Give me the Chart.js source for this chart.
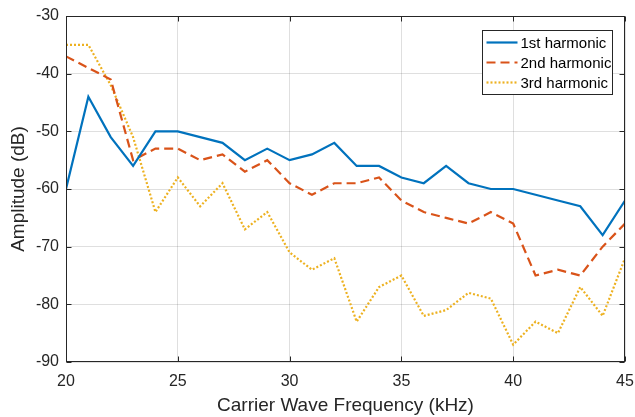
<!DOCTYPE html>
<html lang="en"><head><meta charset="UTF-8">
<title>Harmonic amplitude</title>
<script src="https://cdn.jsdelivr.net/npm/chart.js@4/dist/chart.umd.min.js"></script>
<style>
*{margin:0;padding:0;box-sizing:border-box}
body{background:#fff;width:635px;height:417px;overflow:hidden}
#wrap{position:relative;width:635px;height:417px}
</style></head><body>
<div id="wrap"><canvas id="c"></canvas></div>
<script>
// data
const freqs = [20,21,22,23,24,25,26,27,28,29,30,31,32,33,34,35,36,37,38,39,40,41,42,43,44,45];
const first = [-60,-44,-51,-56,-50,-50,-51,-52,-55,-53,-55,-54,-52,-56,-56,-58,-59,-56,-59,-60,-60,-61,-62,-63,-68,-62];
const second = [-37,-39,-41,-55,-53,-53,-55,-54,-57,-55,-59,-61,-59,-59,-58,-62,-64,-65,-66,-64,-66,-75,-74,-75,-70,-66];
const third = [-35,-35,-42,-51,-64,-58,-63,-59,-67,-64,-71,-74,-72,-83,-77,-75,-82,-81,-78,-79,-87,-83,-85,-77,-82,-72];
const seriesNames = ['1st harmonic', '2nd harmonic', '3rd harmonic'];
const xTicks = [20,25,30,35,40,45];
const yTicks = [-90,-80,-70,-60,-50,-40,-30];

const AX = '#262626';
const FONT = "'Liberation Sans', Arial, sans-serif";

function pts(vals) { return vals.map((v, i) => ({ x: freqs[i], y: v })); }

// box on all four sides, inward ticks, legend in the upper right
const boxPlugin = {
  id: 'boxPlugin',
  afterDraw(chart) {
    const { ctx, chartArea: a, scales } = chart;
    const L = Math.round(a.left) + 0.5, R = Math.round(a.right) - 0.5;
    const T = Math.round(a.top) + 0.5, B = Math.round(a.bottom) - 0.5;
    ctx.save();
    ctx.strokeStyle = AX;
    ctx.lineWidth = 1;
    ctx.setLineDash([]);
    ctx.strokeRect(L, T, R - L, B - T);
    ctx.beginPath();
    xTicks.forEach(v => {
      const x = Math.round(scales.x.getPixelForValue(v)) + 0.5;
      ctx.moveTo(x, B); ctx.lineTo(x, B - 5);
      ctx.moveTo(x, T); ctx.lineTo(x, T + 5);
    });
    yTicks.forEach(v => {
      const y = Math.round(scales.y.getPixelForValue(v)) + 0.5;
      ctx.moveTo(L, y); ctx.lineTo(L + 5, y);
      ctx.moveTo(R, y); ctx.lineTo(R - 5, y);
    });
    ctx.stroke();

    // legend
    const w = 130, h = 64;
    const lx = Math.round(a.right) - 13 - w + 0.5, ly = Math.round(a.top) + 14 + 0.5;
    ctx.fillStyle = '#fff';
    ctx.fillRect(lx, ly, w, h);
    ctx.strokeStyle = AX;
    ctx.strokeRect(lx, ly, w, h);
    ctx.font = '15px ' + FONT;
    ctx.textBaseline = 'middle';
    ctx.textAlign = 'left';
    chart.data.datasets.forEach((ds, i) => {
      const y = ly + 12 + i * 20;
      ctx.strokeStyle = ds.borderColor;
      ctx.lineWidth = ds.borderWidth;
      ctx.setLineDash(ds.borderDash || []);
      ctx.beginPath();
      ctx.moveTo(lx + 4, y); ctx.lineTo(lx + 35, y);
      ctx.stroke();
      ctx.setLineDash([]);
      ctx.fillStyle = '#000';
      ctx.fillText(ds.label, lx + 38, y + 1);
    });
    ctx.restore();
  }
};

new Chart(document.getElementById('c'), {
  type: 'line',
  data: {
    datasets: [
      { label: seriesNames[0], data: pts(first), borderColor: '#0072BD', borderWidth: 2.2 },
      { label: seriesNames[1], data: pts(second), borderColor: '#D95319', borderWidth: 2.2, borderDash: [9, 5] },
      { label: seriesNames[2], data: pts(third), borderColor: '#EDB120', borderWidth: 2.2, borderDash: [2, 2] }
    ]
  },
  options: {
    responsive: true,
    maintainAspectRatio: false,
    animation: false,
    layout: { padding: { top: 16, right: 10, left: 0, bottom: 0 } },
    elements: { point: { radius: 0, hoverRadius: 0 }, line: { tension: 0, fill: false, borderCapStyle: 'butt', borderJoinStyle: 'miter' } },
    plugins: { legend: { display: false }, tooltip: { enabled: false } },
    scales: {
      x: {
        type: 'linear', min: 20, max: 45,
        afterBuildTicks: s => { s.ticks = xTicks.map(v => ({ value: v })); },
        afterFit: s => { s.height = 55; s.paddingLeft = 0; s.paddingRight = 0; },
        grid: { color: 'rgba(38,38,38,0.15)', drawTicks: false },
        border: { display: false },
        ticks: { color: AX, font: { family: FONT, size: 16 }, padding: 10, maxRotation: 0 },
        title: { display: true, text: 'Carrier Wave Frequency (kHz)', color: AX, font: { family: FONT, size: 19 }, padding: { top: 0, bottom: 0 } }
      },
      y: {
        type: 'linear', min: -90, max: -30,
        afterBuildTicks: s => { s.ticks = yTicks.map(v => ({ value: v })); },
        afterFit: s => { s.width = 66; s.paddingTop = 0; s.paddingBottom = 0; },
        grid: { color: 'rgba(38,38,38,0.15)', drawTicks: false },
        border: { display: false },
        ticks: { color: AX, font: { family: FONT, size: 16 }, padding: 7 },
        title: { display: true, text: 'Amplitude (dB)', color: AX, font: { family: FONT, size: 19 }, padding: { top: 7, bottom: 0 } }
      }
    }
  },
  plugins: [boxPlugin]
});
</script>
</body></html>
